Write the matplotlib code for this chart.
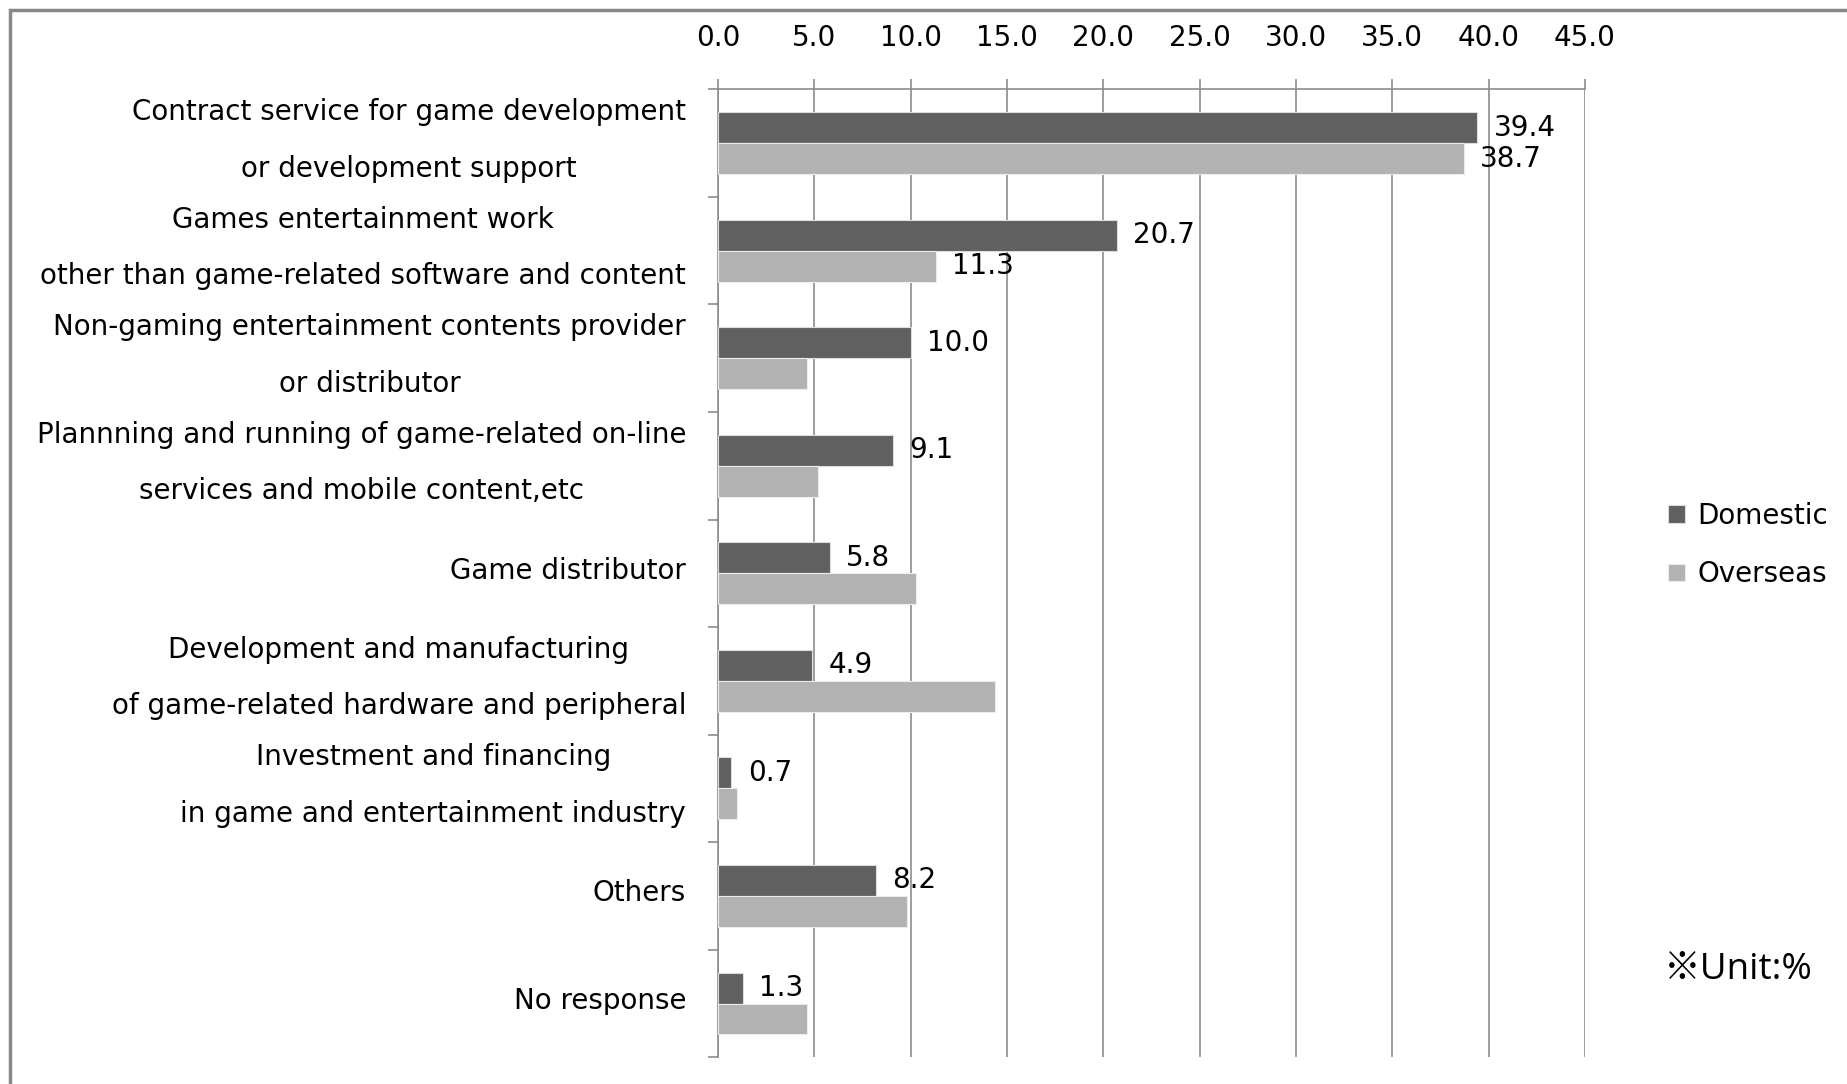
import matplotlib.pyplot as plt
import matplotlib.patches as mpatches
import numpy as np

plt.rcParams['font.family'] = ['DejaVu Sans', 'Noto Sans CJK JP']

categories = [
    "Contract service for game development\nor development support",
    "Games entertainment work\nother than game-related software and content",
    "Non-gaming entertainment contents provider\nor distributor",
    "Plannning and running of game-related on-line\nservices and mobile content,etc",
    "Game distributor",
    "Development and manufacturing\nof game-related hardware and peripheral",
    "Investment and financing\nin game and entertainment industry",
    "Others",
    "No response",
]
domestic = [39.4, 20.7, 10.0, 9.1, 5.8, 4.9, 0.7, 8.2, 1.3]
overseas = [38.7, 11.3, 4.6, 5.2, 10.3, 14.4, 1.0, 9.8, 4.6]
# only these overseas bars carry a value label
overseas_labelled = [True, True, False, False, False, False, False, False, False]
x_ticks = np.arange(0, 50, 5)

DARK = "#606060"
LIGHT = "#b2b2b2"
AXIS = "#8c8c8c"
FS = 20

W, H = 1847, 1084
fig = plt.figure(figsize=(W / 100, H / 100), dpi=100)
fig.patches.append(mpatches.Rectangle((10 / W, -0.1), 1.2, 1 - 10 / H + 0.1,
                                      transform=fig.transFigure, fill=False,
                                      edgecolor="#888888", linewidth=2.5))
left, right, top, bottom = 718, 1585, 89.3, 1057.3
ax = fig.add_axes([left / W, 1 - bottom / H, (right - left) / W, (bottom - top) / H])

y = np.arange(len(categories))
h = 0.288
bars_d = ax.barh(y - h / 2, domestic, height=h, color=DARK, edgecolor="#dcdcdc",
                 linewidth=0.8, label="Domestic", zorder=3)
bars_o = ax.barh(y + h / 2, overseas, height=h, color=LIGHT, edgecolor="#ececec",
                 linewidth=0.8, label="Overseas", zorder=3)

for yi, v in zip(y, domestic):
    ax.text(v + 0.85, yi - h / 2, f"{v:.1f}", va="center", ha="left", fontsize=FS)
for yi, v, show in zip(y, overseas, overseas_labelled):
    if show:
        ax.text(v + 0.85, yi + h / 2, f"{v:.1f}", va="center", ha="left", fontsize=FS)

ax.set_xlim(0, 45)
ax.set_ylim(len(categories) - 0.5, -0.5)
ax.xaxis.tick_top()
ax.set_xticks(x_ticks)
ax.set_xticklabels([f"{t:.1f}" for t in x_ticks], fontsize=FS)
ax.tick_params(axis="x", length=7, color=AXIS, width=1.2, pad=19.5)
ax.grid(axis="x", color=AXIS, linewidth=1.2, zorder=0)

# category names, centred on each group, right-aligned against the axis
ax.set_yticks(y)
ax.set_yticklabels([])
ax.tick_params(axis="y", which="major", length=0)
for yi, name in zip(y, categories):
    ax.annotate(name, xy=(0, yi), xycoords=("axes fraction", "data"),
                xytext=(-23, 2), textcoords="offset points",
                ha="right", va="center", multialignment="center",
                linespacing=2.3, fontsize=FS)
ax.set_yticks(np.arange(-0.5, len(categories), 1), minor=True)
ax.tick_params(axis="y", which="minor", length=7, color=AXIS, width=1.2)

for side in ("right", "bottom"):
    ax.spines[side].set_visible(False)
for side in ("left", "top"):
    ax.spines[side].set_color(AXIS)
    ax.spines[side].set_linewidth(1.2)

fig.legend(handles=[bars_d, bars_o], loc="center left",
           bbox_to_anchor=(1668 / W, 1 - 545 / H), frameon=False,
           fontsize=FS, handlelength=0.6, handleheight=0.6, handletextpad=0.45,
           labelspacing=1.1, borderpad=0, borderaxespad=0)

fig.text(1664 / W, 1 - 970 / H, "※Unit:%", fontsize=26.5, va="center", ha="left",
         family=["Open Sans", "Noto Sans CJK JP"])

fig.savefig("out.png", dpi=100)
